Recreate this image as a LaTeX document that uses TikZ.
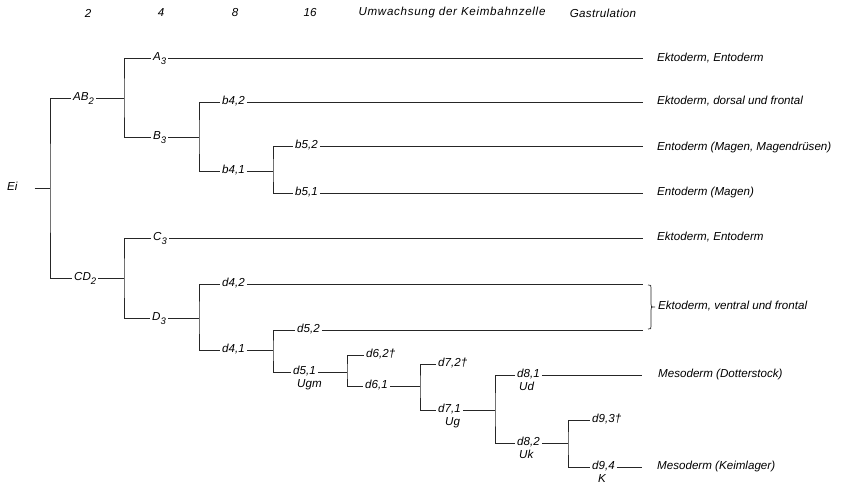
\documentclass[tikz,border=0pt]{standalone}
\usepackage{fontspec}
\setmainfont{Liberation Sans}
\newcommand{\lfont}{\fontsize{11.6}{13}\selectfont\itshape}
\newcommand{\lsub}[1]{\raisebox{-0.65ex}{\fontsize{9.5}{10}\selectfont #1}}
\begin{document}
\begin{tikzpicture}[x=1pt,y=-1pt,
  lbl/.style={font=\lfont, inner xsep=2pt, inner ysep=1pt, anchor=mid west},
  sublbl/.style={font=\lfont, inner sep=0pt, anchor=mid west},
  outl/.style={font=\lfont, inner sep=0pt, anchor=mid west},
  head/.style={font=\lfont, inner sep=0pt, anchor=center},
  ln/.style={line width=0.7pt, draw=black!85}]
\useasboundingbox (0,0) rectangle (851,487);
% header
\node[head] (h2) at (88,13) {2};
\node[head] (h4) at (161,13) {4};
\node[head] (h8) at (235,13) {8};
\node[head] (h16) at (310,13) {16};
\node[head] (hU) at (452,13) {\addfontfeatures{LetterSpace=6}Umwachsung der Keimbahnzelle};
\node[head] (hG) at (603,13) {\addfontfeatures{LetterSpace=3}Gastrulation};
% labels
\node[lbl] (Ei) at (5,188) {Ei};
\node[lbl] (AB2) at (71,98) {AB\lsub{2}};
\node[lbl] (A3) at (151,58) {A\lsub{3}};
\node[lbl] (B3) at (151,137) {B\lsub{3}};
\node[lbl] (b42) at (220,102) {b4,2};
\node[lbl] (b41) at (220,171) {b4,1};
\node[lbl] (b52) at (293,146) {b5,2};
\node[lbl] (b51) at (293,193) {b5,1};
\node[lbl] (CD2) at (72,278) {CD\lsub{2}};
\node[lbl] (C3) at (151,238) {C\lsub{3}};
\node[lbl] (D3) at (150,318) {D\lsub{3}};
\node[lbl] (d42) at (220,284) {d4,2};
\node[lbl] (d41) at (220,350) {d4,1};
\node[lbl] (d52) at (295,330) {d5,2};
\node[lbl] (d51) at (291,372) {d5,1};
\node[sublbl] (Ugm) at (297,385) {Ugm};
\node[lbl] (d62) at (364,355) {d6,2†};
\node[lbl] (d61) at (363,386) {d6,1};
\node[lbl] (d72) at (436,364) {d7,2†};
\node[lbl] (d71) at (436,410) {d7,1};
\node[sublbl] (Ug) at (445,423) {Ug};
\node[lbl] (d81) at (515,375) {d8,1};
\node[sublbl] (Ud) at (519,388) {Ud};
\node[lbl] (d82) at (515,443) {d8,2};
\node[sublbl] (Uk) at (519,456) {Uk};
\node[lbl] (d93) at (590,420) {d9,3†};
\node[lbl] (d94) at (590,467) {d9,4};
\node[sublbl] (K) at (598,480) {K};
% outcomes
\node[outl] (oA3) at (657,59) {Ektoderm, Entoderm};
\node[outl] (ob42) at (657,102) {Ektoderm, dorsal und frontal};
\node[outl] (ob52) at (657,148) {Entoderm (Magen, Magendrüsen)};
\node[outl] (ob51) at (657,193) {Entoderm (Magen)};
\node[outl] (oC3) at (657,238) {Ektoderm, Entoderm};
\node[outl] (od) at (658,307) {Ektoderm, ventral und frontal};
\node[outl] (od81) at (658,375) {Mesoderm (Dotterstock)};
\node[outl] (od94) at (657,467) {Mesoderm (Keimlager)};
% branch points
\coordinate (ei) at (50,188);
\coordinate (ab) at (124,98);
\coordinate (b3) at (199,137);
\coordinate (b41r) at (273,171);
\coordinate (cd) at (124,278);
\coordinate (d3) at (199,318);
\coordinate (d41r) at (273,350);
\coordinate (d51r) at (347,372);
\coordinate (d61r) at (420,386);
\coordinate (d71r) at (495,410);
\coordinate (d82r) at (568,443);
\coordinate (rt) at (643,0);
\coordinate (rt2) at (642,0);
% tree
\draw[ln] ([xshift=15pt]Ei.mid east) -- (ei);
\draw[ln] (AB2.mid west) -| (ei) |- (CD2.mid west);
\draw[ln] (AB2.mid east) -- (ab);
\draw[ln] (A3.mid west) -| (ab) |- (B3.mid west);
\draw[ln] (B3.mid east) -- (b3);
\draw[ln] (b42.mid west) -| (b3) |- (b41.mid west);
\draw[ln] (b41.mid east) -- (b41r);
\draw[ln] (b52.mid west) -| (b41r) |- (b51.mid west);
\draw[ln] (CD2.mid east) -- (cd);
\draw[ln] (C3.mid west) -| (cd) |- (D3.mid west);
\draw[ln] (D3.mid east) -- (d3);
\draw[ln] (d42.mid west) -| (d3) |- (d41.mid west);
\draw[ln] (d41.mid east) -- (d41r);
\draw[ln] (d52.mid west) -| (d41r) |- (d51.mid west);
\draw[ln] (d51.mid east) -- (d51r);
\draw[ln] (d62.mid west) -| (d51r) |- (d61.mid west);
\draw[ln] (d61.mid east) -- (d61r);
\draw[ln] (d72.mid west) -| (d61r) |- (d71.mid west);
\draw[ln] (d71.mid east) -- (d71r);
\draw[ln] (d81.mid west) -| (d71r) |- (d82.mid west);
\draw[ln] (d82.mid east) -- (d82r);
\draw[ln] (d93.mid west) -| (d82r) |- (d94.mid west);
% tails
\foreach \n in {A3,b42,b52,b51,C3,d42,d52}{
  \draw[ln] (\n.mid east) -- (\n.mid east -| rt);
}
\foreach \n in {d81,d94}{
  \draw[ln] (\n.mid east) -- (\n.mid east -| rt2);
}
% bracket
\coordinate (bt) at (648,285);
\coordinate (bb) at (648,329);
\coordinate (bm) at (655,307);
\draw[ln] (bt) .. controls (651,285) .. (651,288) -- (651,304)
  .. controls (651,307) .. (bm) .. controls (651,307) .. (651,310)
  -- (651,326) .. controls (651,329) .. (bb);
\end{tikzpicture}
\end{document}
